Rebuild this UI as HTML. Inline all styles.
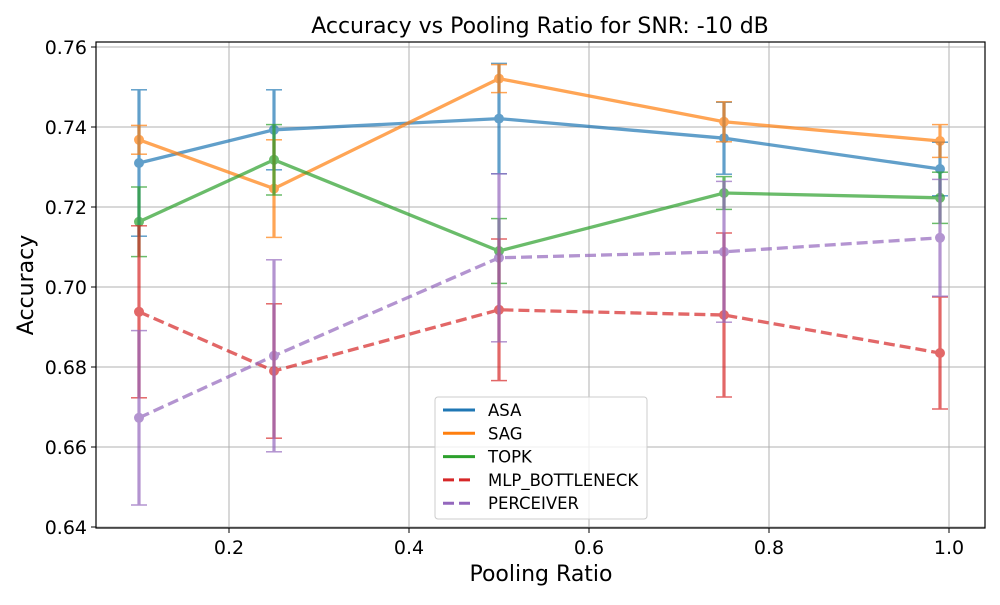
<!DOCTYPE html>
<html><head><meta charset="utf-8"><style>
body{margin:0;background:#fff;}
svg text{font-family:"DejaVu Sans","Liberation Sans",sans-serif;fill:#000;}
</style></head><body>
<svg id="chart" width="1000" height="600" viewBox="0 0 1000 600" xmlns="http://www.w3.org/2000/svg">
<rect width="1000" height="600" fill="#fff"/>
<g id="grid"></g>
<g id="series"></g>
<rect x="96" y="42" width="889" height="486" fill="none" stroke="#000" stroke-width="1.2"/>
<g id="ticks"></g>
<text x="540" y="33" font-size="22" text-anchor="middle">Accuracy vs Pooling Ratio for SNR: -10 dB</text>
<text x="541" y="581" font-size="22" text-anchor="middle">Pooling Ratio</text>
<text transform="translate(33,285) rotate(-90)" font-size="22" text-anchor="middle">Accuracy</text>
<g id="legend"></g>
</svg>
<script>
const xValues=[0.1,0.25,0.5,0.75,0.99];
const seriesNames=["ASA","SAG","TOPK","MLP_BOTTLENECK","PERCEIVER"];
const asaVals=[0.7310,0.7393,0.7421,0.7372,0.7295];
const asaErr=[0.0183,0.0100,0.0138,0.0090,0.0067];
const sagVals=[0.7368,0.7246,0.7521,0.7413,0.7365];
const sagErr=[0.0036,0.0122,0.0035,0.0050,0.0041];
const topkVals=[0.7163,0.7318,0.7090,0.7235,0.7223];
const topkErr=[0.0087,0.0088,0.0081,0.0041,0.0064];
const mlpVals=[0.6938,0.6790,0.6943,0.6930,0.6835];
const mlpErr=[0.0215,0.0168,0.0177,0.0205,0.0140];
const percVals=[0.6673,0.6828,0.7073,0.7088,0.7123];
const percErr=[0.0218,0.0240,0.0210,0.0176,0.0146];
const xTicks=[0.2,0.4,0.6,0.8,1.0];
const yTicks=[0.64,0.66,0.68,0.70,0.72,0.74,0.76];

const NS="http://www.w3.org/2000/svg";
const X=v=>49+900*v;
const Y=v=>527-(v-0.64)*4000;
function mk(tag,attrs,parent){const e=document.createElementNS(NS,tag);for(const k in attrs)e.setAttribute(k,attrs[k]);parent.appendChild(e);return e;}
const grid=document.getElementById('grid'),ticks=document.getElementById('ticks'),ser=document.getElementById('series'),leg=document.getElementById('legend');
xTicks.forEach(t=>{
  const g=mk('line',{x1:X(t),x2:X(t),y1:42,y2:528,stroke:'#b0b0b0','stroke-width':1},grid);
  
  
  mk('line',{x1:X(t),x2:X(t),y1:528,y2:533,stroke:'#000'},ticks);
  const tx=mk('text',{x:X(t),y:554,'font-size':19,'text-anchor':'middle'},ticks);
  tx.textContent=t.toFixed(1);
  
  
});
yTicks.forEach(t=>{
  const g=mk('line',{x1:96,x2:985,y1:Y(t),y2:Y(t),stroke:'#b0b0b0','stroke-width':1},grid);
  
  
  mk('line',{x1:91,x2:96,y1:Y(t),y2:Y(t),stroke:'#000'},ticks);
  const tx=mk('text',{x:87,y:Y(t)+7,'font-size':19,'text-anchor':'end'},ticks);
  tx.textContent=t.toFixed(2);
  
  
});
const colors=['#1f77b4','#ff7f0e','#2ca02c','#d62728','#9467bd'];
const allVals=[asaVals,sagVals,topkVals,mlpVals,percVals];
const allErr=[asaErr,sagErr,topkErr,mlpErr,percErr];
const dashed=[false,false,false,true,true];
allVals.forEach((vals,s)=>{
  const g=mk('g',{opacity:0.7},ser);
  
  
  vals.forEach((v,i)=>{
    const e=allErr[s][i],x=X(xValues[i]);
    const eb=mk('g',{stroke:colors[s],'stroke-width':3.2},g);
    
    
    mk('line',{x1:x,x2:x,y1:Y(v-e),y2:Y(v+e)},eb);
    mk('line',{x1:x-8,x2:x+8,y1:Y(v-e),y2:Y(v-e),'stroke-width':1.5},eb);
    mk('line',{x1:x-8,x2:x+8,y1:Y(v+e),y2:Y(v+e),'stroke-width':1.5},eb);
  });
  const pts=vals.map((v,i)=>X(xValues[i])+','+Y(v)).join(' ');
  const pl=mk('polyline',{points:pts,fill:'none',stroke:colors[s],'stroke-width':3.3},g);
  if(dashed[s])pl.setAttribute('stroke-dasharray','11,5');
  
  
  vals.forEach((v,i)=>{
    const c=mk('circle',{cx:X(xValues[i]),cy:Y(v),r:5,fill:colors[s]},g);
    
    
  });
});
mk('rect',{x:435,y:397,width:212,height:122,rx:3,fill:'#fff','fill-opacity':0.8,stroke:'#ccc'},leg);
seriesNames.forEach((n,i)=>{
  const y=410+i*23.3;
  const ent=mk('g',{},leg);
  
  
  const l=mk('line',{x1:443,x2:475,y1:y,y2:y,stroke:colors[i],'stroke-width':3},ent);
  if(dashed[i])l.setAttribute('stroke-dasharray','11,5');
  const t=mk('text',{x:488,y:y+6,'font-size':16.5},ent);
  t.textContent=n;
});
</script>
</body></html>
